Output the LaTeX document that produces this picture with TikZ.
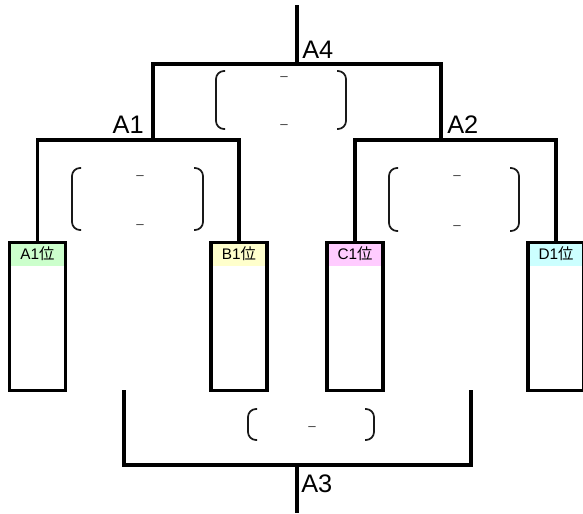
\documentclass[tikz,border=0pt]{standalone}
\usepackage{fontspec}
\setmainfont{Liberation Sans}
\newfontfamily\jpfont{Noto Sans CJK JP}
\usepackage{xcolor}
\definecolor{bandA}{HTML}{CCFFCC}
\definecolor{bandB}{HTML}{FFFFCC}
\definecolor{bandC}{HTML}{FFCCFF}
\definecolor{bandD}{HTML}{CCFFFF}
\tikzset{
  team/.style={draw, line width=2.3pt, anchor=north, inner sep=0pt,
    minimum width=42pt, minimum height=111pt},
  rankband/.style={anchor=north, inner sep=0pt, minimum width=42pt,
    minimum height=18.75pt, font=\fontsize{11.5}{11.5}\selectfont},
  bline/.style={line width=2.3pt},
  paren/.style={line width=1.3pt, black!90, rounded corners=6pt},
  scoredash/.style={inner sep=0pt, text=black!80, font=\fontsize{10}{10}\selectfont},
  roundlbl/.style={inner sep=0pt, font=\fontsize{19}{19}\selectfont}
}
\newcommand\openbr[3]{\draw[paren] (#1+9,#2) -- (#1,#2) -- (#1,#3) -- (#1+9,#3);}
\newcommand\closebr[3]{\draw[paren] (#1-9,#2) -- (#1,#2) -- (#1,#3) -- (#1-9,#3);}
\begin{document}
\begin{tikzpicture}[x=0.75pt,y=-0.75pt]
    \useasboundingbox (0,0) rectangle (583,514);
    % teams
    \node[rankband, fill=bandA] (a1l) at (37.5,241) {A1{\jpfont 位}};
    \node[team] (a1) at (37.5,241) {};
    \node[rankband, fill=bandB] (b1l) at (239,241) {B1{\jpfont 位}};
    \node[team] (b1) at (239,241) {};
    \node[rankband, fill=bandC] (c1l) at (355,241) {C1{\jpfont 位}};
    \node[team] (c1) at (355,241) {};
    \node[rankband, fill=bandD] (d1l) at (556,241) {D1{\jpfont 位}};
    \node[team] (d1) at (556,241) {};
    %
    \coordinate (a1m) at (139,140);
    \coordinate (a2m) at (456,140);
    \draw[bline] (a1.north) |- (a1m) -| (b1.north);
    \draw[bline] (c1.north) |- (a2m) -| (d1.north);
    \coordinate (a1s) at (153,140);
    \coordinate (a2s) at (441,140);
    \coordinate (a4m) at (297,64);
    \coordinate (a4end) at (297,5);
    \draw[bline] (a1s) |- (a4m) -| (a2s);
    \draw[bline] (a4m) -- (a4end);
    \coordinate (a3l) at (124,390);
    \coordinate (a3r) at (471,390);
    \coordinate (a3m) at (297,465);
    \coordinate (a3end) at (297,513);
    \draw[bline] (a3l) |- (a3m) -| (a3r);
    \draw[bline] (a3m) -- (a3end);
    %
    \node[roundlbl, anchor=base west] (a4t) at (302,58) {A4};
    \node[roundlbl, anchor=base east] (a1t) at (144,133) {A1};
    \node[roundlbl, anchor=base west] (a2t) at (447,133) {A2};
    \node[roundlbl, anchor=base west] (a3t) at (301,492) {A3};
    % scores
    \openbr{216}{71}{129} \closebr{346}{71}{129}
    \node[scoredash] (s4a) at (284,79) {–};
    \node[scoredash] (s4b) at (284,127) {–};
    \openbr{72}{168}{230} \closebr{203}{168}{230}
    \node[scoredash] (s1a) at (140,178) {–};
    \node[scoredash] (s1b) at (140,227) {–};
    \openbr{389}{168}{231} \closebr{519}{168}{231}
    \node[scoredash] (s2a) at (457,178) {–};
    \node[scoredash] (s2b) at (457,228) {–};
    \openbr{248}{409}{440} \closebr{374}{409}{440}
    \node[scoredash] (s3a) at (312,429) {–};
\end{tikzpicture}
\end{document}
